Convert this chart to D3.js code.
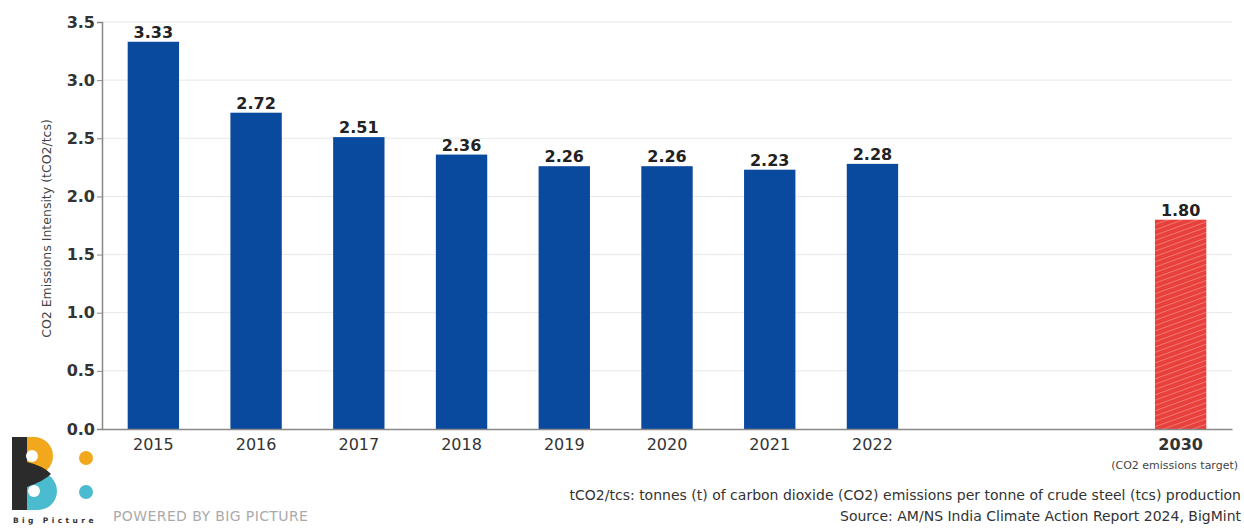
<!DOCTYPE html>
<html>
<head>
<meta charset="utf-8">
<script src="https://cdn.jsdelivr.net/npm/d3@7"></script>
<style>
  body { margin: 0; background: #fff; }
  svg { display: block; }
</style>
</head>
<body>
<div id="chart"></div>
<script>
// data
const years = ['2015', '2016', '2017', '2018', '2019', '2020', '2021', '2022', 'gap1', 'gap2', '2030'];
const intensity = [3.33, 2.72, 2.51, 2.36, 2.26, 2.26, 2.23, 2.28, null, null, 1.80];
const yTicks = [0, 0.5, 1.0, 1.5, 2.0, 2.5, 3.0, 3.5];
const targetYear = '2030';

const W = 1244, H = 529;
const margin = { top: 22, right: 12, bottom: 100, left: 102 };
const width = W - margin.left - margin.right,
  height = H - margin.top - margin.bottom;

const font = 'DejaVu Sans, sans-serif';

const svg = d3.select('#chart')
  .append('svg')
  .attr('width', W)
  .attr('height', H);

// hatch for the target bar
const defs = svg.append('defs');
const pat = defs.append('pattern')
  .attr('id', 'hatch')
  .attr('patternUnits', 'userSpaceOnUse')
  .attr('width', 5)
  .attr('height', 5)
  .attr('patternTransform', 'rotate(70)');
pat.append('rect').attr('width', 5).attr('height', 5).attr('fill', '#e8403b');
pat.append('line')
  .attr('x1', 0).attr('y1', 0).attr('x2', 0).attr('y2', 5)
  .attr('stroke', '#f8aaa5').attr('stroke-width', 1);

const g = svg.append('g')
  .attr('transform', `translate(${margin.left} ${margin.top})`);

const x = d3.scaleBand()
  .domain(years)
  .range([0, width])
  .paddingInner(0.5)
  .paddingOuter(0.25);

const y = d3.scaleLinear()
  .domain([0, 3.5])
  .range([height, 0]);

// gridlines
g.append('g')
  .selectAll('line')
  .data(yTicks.slice(1))
  .enter()
  .append('line')
  .attr('x1', 0)
  .attr('x2', width)
  .attr('y1', d => y(d))
  .attr('y2', d => y(d))
  .attr('stroke', '#e8e8e8')
  .attr('stroke-width', 1);

// y axis
const yAxis = g.append('g')
  .call(d3.axisLeft(y).tickValues(yTicks).tickFormat(d3.format('.1f')).tickSize(5).tickPadding(2));
yAxis.select('.domain').attr('stroke', '#888').attr('stroke-width', 1.5);
yAxis.selectAll('.tick line').attr('stroke', '#888');
yAxis.selectAll('.tick text')
  .attr('font-family', font)
  .attr('font-size', 16)
  .attr('font-weight', 'bold')
  .attr('fill', '#333');

// bars
const data = years.map((d, i) => ({ year: d, value: intensity[i] })).filter(d => d.value != null);

g.selectAll('rect.bar')
  .data(data)
  .enter()
  .append('rect')
  .attr('class', 'bar')
  .attr('x', d => x(d.year))
  .attr('y', d => y(d.value))
  .attr('width', x.bandwidth())
  .attr('height', d => height - y(d.value))
  .attr('fill', d => d.year === targetYear ? 'url(#hatch)' : '#0a4a9e');

// value labels
g.selectAll('text.val')
  .data(data)
  .enter()
  .append('text')
  .attr('class', 'val')
  .attr('x', d => x(d.year) + x.bandwidth() / 2)
  .attr('y', d => y(d.value) - 4)
  .attr('text-anchor', 'middle')
  .attr('font-family', font)
  .attr('font-size', 16)
  .attr('font-weight', 'bold')
  .attr('fill', '#222')
  .text(d => d.value.toFixed(2));

// x axis
const xAxis = g.append('g')
  .attr('transform', `translate(0 ${height})`)
  .call(d3.axisBottom(x).tickSize(0).tickPadding(10).tickFormat(d => d.startsWith('gap') ? '' : d));
xAxis.select('.domain').attr('stroke', '#888').attr('stroke-width', 1.5);
xAxis.selectAll('.tick text')
  .attr('font-family', font)
  .attr('font-size', 16)
  .attr('fill', '#333')
  .attr('font-weight', d => d === targetYear ? 'bold' : 'normal');

g.append('text')
  .attr('x', x(targetYear) + x.bandwidth() / 2 - 6)
  .attr('y', height + 40)
  .attr('text-anchor', 'middle')
  .attr('font-family', font)
  .attr('font-size', 11)
  .attr('fill', '#444')
  .text('(CO2 emissions target)');

// y axis title
svg.append('text')
  .attr('transform', `translate(51 ${margin.top + height / 2 + 3}) rotate(-90)`)
  .attr('text-anchor', 'middle')
  .attr('font-family', font)
  .attr('font-size', 12.5)
  .attr('fill', '#444')
  .text('CO2 Emissions Intensity (tCO2/tcs)');

// footer notes
const foot = svg.append('g')
  .attr('font-family', font)
  .attr('font-size', 14)
  .attr('fill', '#333')
  .attr('text-anchor', 'end');
foot.append('text').attr('x', 1241).attr('y', 500)
  .text('tCO2/tcs: tonnes (t) of carbon dioxide (CO2) emissions per tonne of crude steel (tcs) production');
foot.append('text').attr('x', 1241).attr('y', 521)
  .text('Source: AM/NS India Climate Action Report 2024, BigMint');

// logo
const logo = svg.append('g');
logo.append('path')
  .attr('d', 'M26,437 h8 a19,19 0 0 1 0,38 h-8 Z')
  .attr('fill', '#f2a81d');
logo.append('path')
  .attr('d', 'M26,472 h12 a19,19 0 0 1 0,38 h-12 Z')
  .attr('fill', '#4bbcd0');
logo.append('rect')
  .attr('x', 12).attr('y', 437).attr('width', 15).attr('height', 73)
  .attr('fill', '#2b2b2b');
logo.append('path')
  .attr('d', 'M27,462 Q44,466 51,474 Q44,481 27,487 Z')
  .attr('fill', '#2b2b2b');
logo.append('circle').attr('cx', 32).attr('cy', 456).attr('r', 6).attr('fill', '#fff');
logo.append('circle').attr('cx', 34).attr('cy', 491).attr('r', 6).attr('fill', '#fff');
logo.append('circle').attr('cx', 86).attr('cy', 458).attr('r', 7).attr('fill', '#f2a81d');
logo.append('circle').attr('cx', 86).attr('cy', 492).attr('r', 7).attr('fill', '#4bbcd0');
logo.append('text')
  .attr('x', 13).attr('y', 523)
  .attr('font-family', font)
  .attr('font-size', 7.5)
  .attr('font-weight', 'bold')
  .attr('letter-spacing', 3.4)
  .attr('fill', '#333')
  .text('Big Picture');
svg.append('text')
  .attr('x', 113).attr('y', 521)
  .attr('font-family', font)
  .attr('font-size', 14)
  .attr('letter-spacing', 0.4)
  .attr('fill', '#aaa')
  .text('POWERED BY BIG PICTURE');
</script>
</body>
</html>
